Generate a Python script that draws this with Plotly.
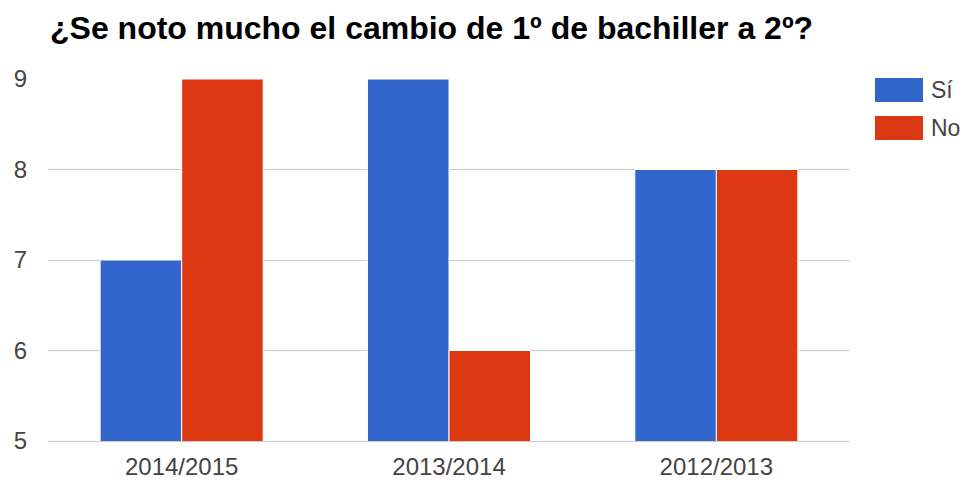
import plotly.graph_objects as go

categories = ["2014/2015", "2013/2014", "2012/2013"]
si_values = [7, 9, 8]
no_values = [9, 6, 8]
series_names = ["Sí", "No"]
y_ticks = [5, 6, 7, 8, 9]

BLUE = "#3366CC"
RED = "#DC3912"
FONT = "Liberation Sans, Arial, sans-serif"

# the page body adds 8px on the top and left, so the figure is 8px smaller
OFF = 8
PL, PR, PT, PB = 48, 850, 79, 441  # plot area in window pixels


def px(x):
    return (x - PL) / (PR - PL)


def py(y):
    return 1 - (y - PT) / (PB - PT)


fig = go.Figure()
fig.add_trace(go.Bar(x=categories, y=si_values, name=series_names[0],
                     marker=dict(color=BLUE, line=dict(color="white", width=1))))
fig.add_trace(go.Bar(x=categories, y=no_values, name=series_names[1],
                     marker=dict(color=RED, line=dict(color="white", width=1))))

# legend drawn by hand to get the large swatches
for i, (name, color) in enumerate(zip(series_names, [BLUE, RED])):
    y0 = 78 + i * 38
    fig.add_shape(type="rect", xref="paper", yref="paper",
                  x0=px(875), x1=px(923), y0=py(y0 + 24), y1=py(y0),
                  fillcolor=color, line=dict(width=0))
    fig.add_annotation(text=name, xref="paper", yref="paper",
                       x=px(929), y=py(y0 + 12),
                       xanchor="left", yanchor="middle", showarrow=False,
                       font=dict(family=FONT, size=23, color="#444"))

W, H = 970 - OFF, 483 - OFF
fig.update_layout(
    width=W, height=H,
    margin=dict(l=PL - OFF, r=970 - PR, t=PT - OFF, b=483 - PB),
    paper_bgcolor="white", plot_bgcolor="white",
    barmode="group", bargap=0.39, bargroupgap=0,
    showlegend=False,
    font=dict(family=FONT, color="#444"),
    title=dict(text="<b>¿Se noto mucho el cambio de 1º de bachiller a 2º?</b>",
               x=(50 - OFF) / W, xanchor="left", y=1 - (28 - OFF) / H, yanchor="middle",
               font=dict(family=FONT, size=32, color="#000")),
    xaxis=dict(showgrid=False, showline=True, linecolor="#ccc", linewidth=1,
               ticks="", automargin=False,
               tickfont=dict(size=24, color="#444"), ticklabelstandoff=4),
    yaxis=dict(range=[5, 9], tickvals=y_ticks, showgrid=True, gridcolor="#ccc",
               gridwidth=1, zeroline=False, showline=False, ticks="", automargin=False,
               tickfont=dict(size=24, color="#444"), ticklabelstandoff=20),
)

fig.write_html("out.html")
